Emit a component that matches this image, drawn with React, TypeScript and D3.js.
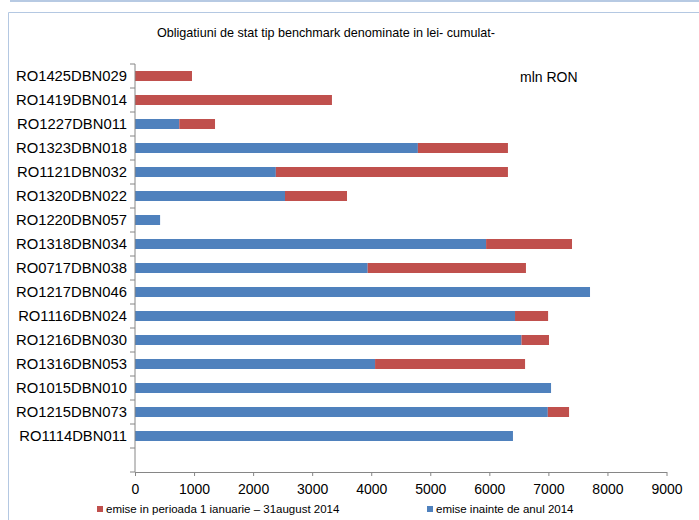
import React, { useEffect, useRef } from 'react';
import * as d3 from 'd3';

// categories top -> bottom (last one is an empty row, as in the source sheet)
const bonds = [
  'RO1425DBN029', 'RO1419DBN014', 'RO1227DBN011', 'RO1323DBN018',
  'RO1121DBN032', 'RO1320DBN022', 'RO1220DBN057', 'RO1318DBN034',
  'RO0717DBN038', 'RO1217DBN046', 'RO1116DBN024', 'RO1216DBN030',
  'RO1316DBN053', 'RO1015DBN010', 'RO1215DBN073', 'RO1114DBN011', '',
];

// emise inainte de anul 2014
const before2014 = [0, 0, 750, 4790, 2385, 2540, 425, 5945, 3940, 7705, 6435, 6545, 4065, 7045, 6990, 6400, 0];
// emise in perioada 1 ianuarie - 31 august 2014
const in2014 = [965, 3335, 605, 1525, 3930, 1050, 0, 1455, 2680, 0, 560, 465, 2540, 0, 360, 0, 0];

const xTicks = [0, 1000, 2000, 3000, 4000, 5000, 6000, 7000, 8000, 9000];

const seriesKeys = ['before', 'in2014'];
const seriesNames = ['emise inainte de anul 2014', 'emise in perioada 1 ianuarie \u2013 31august 2014'];
const colors: Record<string, string> = { before: '#4F81BD', in2014: '#C0504D' };

const FONT = 'Liberation Sans, Arial, sans-serif';

const App = () => {
  const svgRef = useRef<SVGSVGElement>(null);

  useEffect(() => {
    const svg = d3.select(svgRef.current);
    svg.selectAll('*').remove();

    const W = 699, H = 520;

    // frame lines
    svg.append('line').attr('x1', 10).attr('x2', W).attr('y1', 1).attr('y2', 1)
      .attr('stroke', '#9fb8da').attr('stroke-width', 1.5);
    svg.append('path').attr('d', `M8.5,${H} V12.5 H${W}`)
      .attr('fill', 'none').attr('stroke', '#b4c8e2').attr('stroke-width', 1);

    const rows = bonds.map((b, i) => ({ bond: b, key: String(i), before: before2014[i], in2014: in2014[i] }));

    const x = d3.scaleLinear().domain([0, 9000]).range([135, 666.5]);
    const y = d3.scaleBand().domain(rows.map(r => r.key)).range([64, 472]).padding(0);

    const stack = d3.stack<any>().keys(seriesKeys);
    const series = stack(rows);

    const barH = 10;
    svg.append('g').selectAll('g')
      .data(series)
      .enter().append('g')
      .attr('fill', d => colors[d.key])
      .selectAll('rect')
      .data(d => d)
      .enter().append('rect')
      .attr('x', d => x(d[0]))
      .attr('width', d => Math.max(0, x(d[1]) - x(d[0])))
      .attr('y', d => (y(d.data.key) || 0) + (y.bandwidth() - barH) / 2)
      .attr('height', barH);

    // x axis
    const xAxis = svg.append('g')
      .attr('transform', 'translate(0,472)')
      .call(d3.axisBottom(x).tickValues(xTicks).tickSize(4).tickSizeOuter(0).tickFormat(d3.format('d')));
    xAxis.select('.domain').attr('stroke', '#868686');
    xAxis.selectAll('.tick line').attr('stroke', '#868686');
    xAxis.selectAll('.tick text')
      .attr('font-family', FONT).attr('font-size', 14).attr('fill', '#000').attr('dy', '1.05em');

    // y axis (ticks at band boundaries)
    const yg = svg.append('g');
    yg.append('line').attr('x1', 135).attr('x2', 135).attr('y1', 64).attr('y2', 472)
      .attr('stroke', '#868686');
    yg.selectAll('line.tk')
      .data(rows.map(r => y(r.key) || 0).concat([472]))
      .enter().append('line')
      .attr('class', 'tk')
      .attr('x1', 130).attr('x2', 135)
      .attr('y1', d => d).attr('y2', d => d)
      .attr('stroke', '#868686');
    yg.selectAll('text')
      .data(rows)
      .enter().append('text')
      .attr('x', 127)
      .attr('y', d => (y(d.key) || 0) + y.bandwidth() / 2)
      .attr('dy', '0.36em')
      .attr('text-anchor', 'end')
      .attr('font-family', FONT).attr('font-size', 14.8)
      .text(d => d.bond);

    // title + unit
    svg.append('text').attr('x', 326).attr('y', 37).attr('text-anchor', 'middle')
      .attr('font-family', FONT).attr('font-size', 12.6)
      .text('Obligatiuni de stat tip benchmark denominate in lei- cumulat-');
    svg.append('text').attr('x', 520).attr('y', 82)
      .attr('font-family', FONT).attr('font-size', 14)
      .text('mln RON');

    // legend
    const legend = [
      { key: 'in2014', name: seriesNames[1], x: 97 },
      { key: 'before', name: seriesNames[0], x: 427 },
    ];
    const lg = svg.append('g').selectAll('g').data(legend).enter().append('g')
      .attr('transform', d => `translate(${d.x},513)`);
    lg.append('rect').attr('x', 0).attr('y', -7).attr('width', 6).attr('height', 6)
      .attr('fill', d => colors[d.key]);
    lg.append('text').attr('x', 9).attr('y', 0)
      .attr('font-family', FONT).attr('font-size', 11.5)
      .text(d => d.name);
  }, []);

  return (
    <svg ref={svgRef} width={699} height={520}
      style={{ position: 'absolute', left: 0, top: 0, background: '#fff' }} />
  );
};

export default App;
